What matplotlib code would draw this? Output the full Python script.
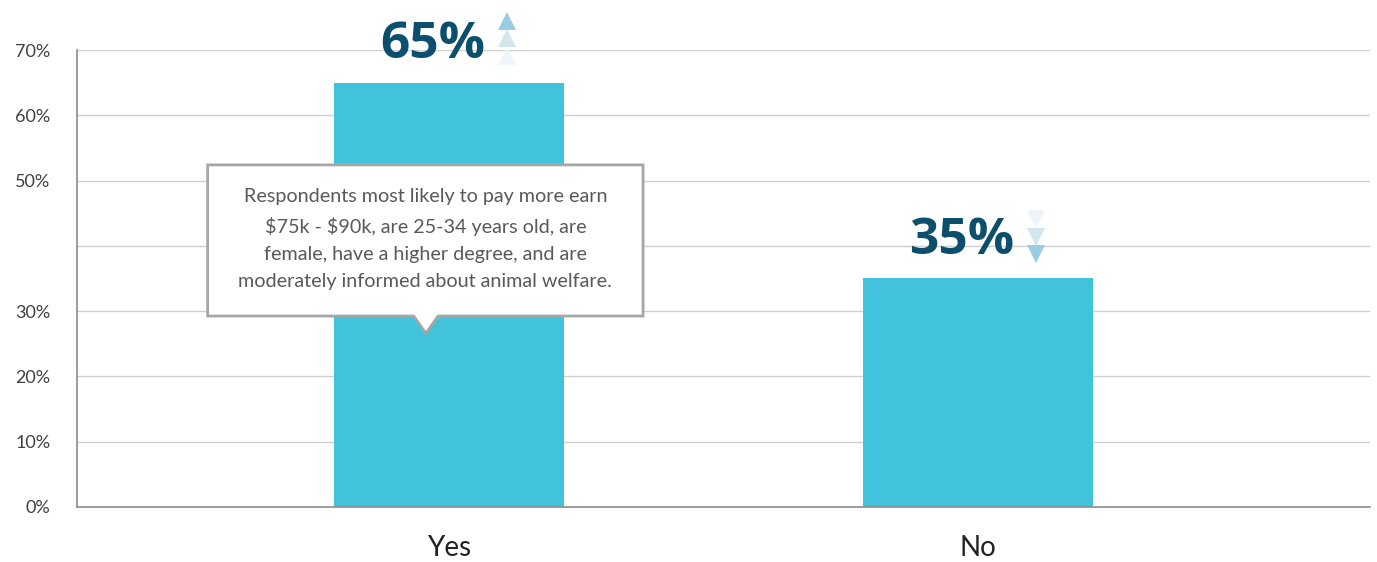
import numpy as np
import matplotlib.pyplot as plt
from matplotlib.patches import Polygon

plt.rcParams['font.family'] = ['Lato', 'DejaVu Sans']

# data
categories = ['Yes', 'No']
values = [65, 35]
value_labels = ['65%', '35%']
trend = ['up', 'down']
y_ticks = [0, 10, 20, 30, 40, 50, 60, 70]
y_tick_labels = ['0%', '10%', '20%', '30%', '', '50%', '60%', '70%']
note = ("Respondents most likely to pay more earn\n"
        r"\$75k - \$90k, are 25-34 years old, are" "\n"
        "female, have a higher degree, and are\n"
        "moderately informed about animal welfare.")

bar_color = '#42C3DC'
label_color = '#0B4F6C'
arrow_colors = ['#9ACCE2', '#D3E6EF', '#EDF5F9']  # dark -> light

fig = plt.figure(figsize=(13.77, 5.62), dpi=100)
ax = fig.add_axes([0.0559, 0.0979, 0.9390, 0.8131])

x = np.arange(len(categories))
ax.bar(x, values, width=0.435, color=bar_color, zorder=2)

ax.set_xlim(-0.703, 1.741)
ax.set_ylim(0, 70)
ax.set_yticks(y_ticks)
ax.set_yticklabels(y_tick_labels, fontsize=13, color='#404040')
ax.set_xticks(x)
ax.set_xticklabels(categories, fontsize=20, color='#222222')
ax.tick_params(axis='both', length=0)
ax.tick_params(axis='y', pad=19)
ax.tick_params(axis='x', pad=20)
ax.grid(axis='y', color='#CFCFCF', linewidth=1, zorder=0)

for s in ['top', 'right']:
    ax.spines[s].set_visible(False)
for s in ['left', 'bottom']:
    ax.spines[s].set_color('#8C8C8C')
    ax.spines[s].set_linewidth(1.2)

# value labels with trend arrows
for xi, v, lab, t in zip(x, values, value_labels, trend):
    ax.text(xi - 0.03, v + 1.9, lab, ha='center', va='bottom', fontsize=37,
            fontweight='bold', family=['Open Sans', 'DejaVu Sans'],
            color=label_color, zorder=4, clip_on=False)
    ax_x = xi + 0.11
    if t == 'up':
        ys = [v + 9.5, v + 6.8, v + 4.1]
        marker = '^'
    else:
        ys = [v + 3.7, v + 6.4, v + 9.1]
        marker = 'v'
    for yy, c in zip(ys, arrow_colors):
        ax.plot(ax_x, yy, marker=marker, markersize=13, color=c,
                markeredgewidth=0, zorder=4, clip_on=False)

# callout box
box_x0, box_x1 = -0.456, 0.367
box_y0, box_y1 = 29.25, 52.4
tip_x, tip_y = -0.0435, 26.6
half_base = 0.023
pts = [(box_x0, box_y1), (box_x1, box_y1), (box_x1, box_y0),
       (tip_x + half_base, box_y0), (tip_x, tip_y), (tip_x - half_base, box_y0),
       (box_x0, box_y0)]
ax.add_patch(Polygon(pts, closed=True, facecolor='white', edgecolor='#A6A6A6',
                     linewidth=2, zorder=5))
ax.text((box_x0 + box_x1) / 2, (box_y0 + box_y1) / 2 + 0.2, note, ha='center',
        va='center', fontsize=14.2, color='#595959', linespacing=1.72, zorder=6)

fig.savefig('out.png', dpi=100)
